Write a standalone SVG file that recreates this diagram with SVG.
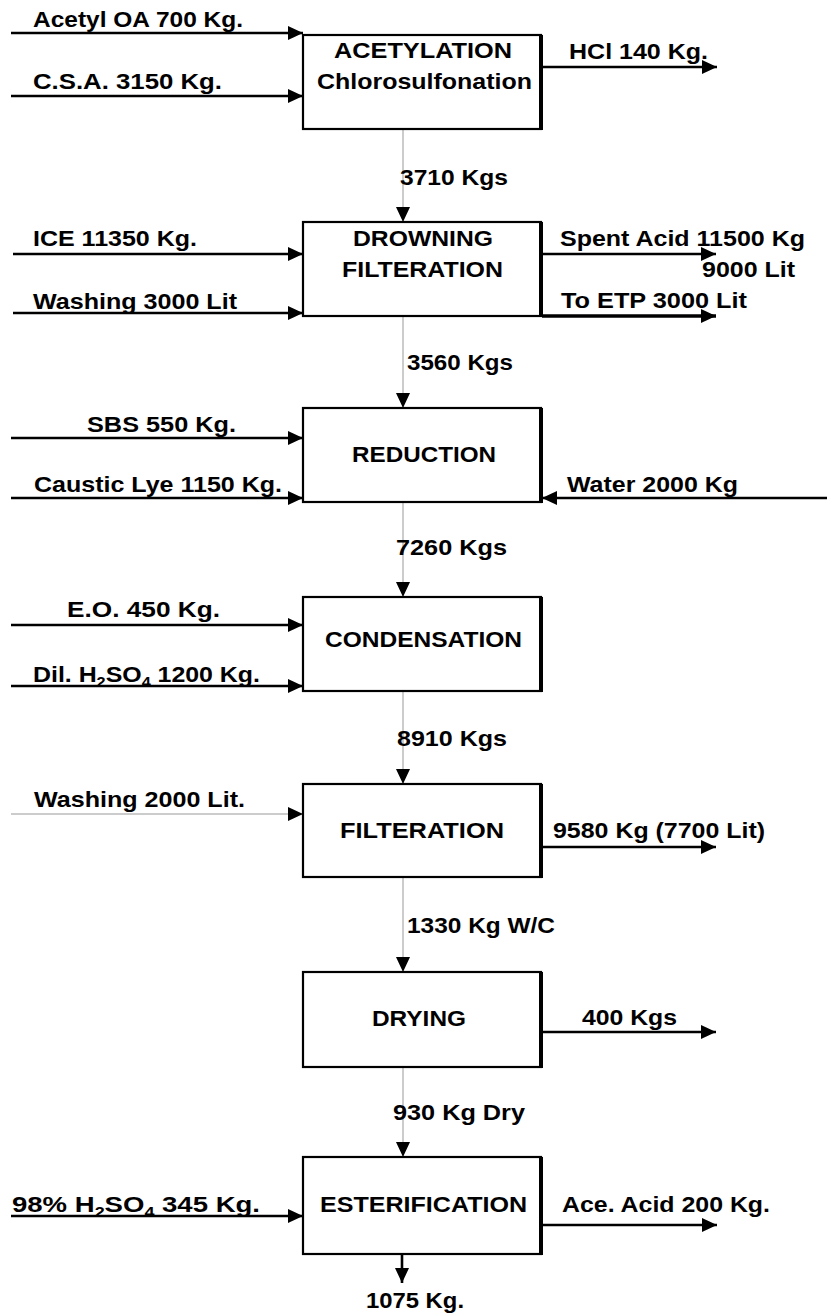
<svg xmlns="http://www.w3.org/2000/svg" width="827" height="1316" viewBox="0 0 827 1316">
<style>
text{font-family:"Liberation Sans",Arial,sans-serif;font-weight:bold;font-size:21.5px;fill:#000}
.box{fill:#fff;stroke:#000;stroke-width:2.2}
.edge{stroke:#000;stroke-width:4}
.ar{stroke:#000;stroke-width:2.6;fill:none;marker-end:url(#ah)}
.thick{stroke-width:3.6}
.thin{stroke:#999;stroke-width:1;fill:none;marker-end:url(#ah)}
.sub{font-size:14px}
</style>
<defs>
<marker id="ah" markerUnits="userSpaceOnUse" viewBox="0 0 15 14" refX="15" refY="7" markerWidth="15" markerHeight="14" orient="auto">
<path d="M0,0 L15,7 L0,14 z" fill="#000"/>
</marker>
</defs>
<rect width="827" height="1316" fill="#fff"/>
<g id="connectors">
<line class="ar" x1="11" y1="33" x2="303" y2="33"/>
<line class="ar" x1="11" y1="96" x2="303" y2="96"/>
<line class="ar" x1="542" y1="67" x2="717" y2="67"/>
<line class="thin" x1="403" y1="130" x2="403" y2="222"/>
<line class="ar" x1="13" y1="254" x2="303" y2="254"/>
<line class="ar" x1="13" y1="313" x2="303" y2="313"/>
<line class="ar" x1="542" y1="254" x2="716" y2="254"/>
<line class="ar thick" x1="542" y1="316" x2="716" y2="316"/>
<line class="thin" x1="403" y1="317" x2="403" y2="408"/>
<line class="ar" x1="11" y1="438" x2="303" y2="438"/>
<line class="ar" x1="11" y1="498" x2="303" y2="498"/>
<line class="ar" x1="827" y1="498" x2="542" y2="498"/>
<line class="thin" x1="403" y1="503" x2="403" y2="597"/>
<line class="ar" x1="11" y1="625" x2="303" y2="625"/>
<line class="ar" x1="11" y1="686" x2="303" y2="686"/>
<line class="thin" x1="403" y1="692" x2="403" y2="784"/>
<line class="thin" x1="11" y1="814" x2="303" y2="814"/>
<line class="ar" x1="542" y1="847" x2="716" y2="847"/>
<line class="thin" x1="403" y1="878" x2="403" y2="972"/>
<line class="ar" x1="542" y1="1032" x2="716" y2="1032"/>
<line class="thin" x1="403" y1="1068" x2="403" y2="1157"/>
<line class="ar" x1="11" y1="1216" x2="303" y2="1216"/>
<line class="ar" x1="542" y1="1225" x2="717" y2="1225"/>
<line class="ar" x1="402" y1="1254" x2="402" y2="1283"/>
</g>
<g id="labels">
<text x="33" y="27" textLength="210" lengthAdjust="spacingAndGlyphs">Acetyl OA 700 Kg.</text>
<text x="33" y="89" textLength="189" lengthAdjust="spacingAndGlyphs">C.S.A.  3150 Kg.</text>
<text x="569" y="59" textLength="139" lengthAdjust="spacingAndGlyphs">HCl 140 Kg.</text>
<text x="400" y="185" textLength="108" lengthAdjust="spacingAndGlyphs">3710 Kgs</text>
<text x="33" y="246" textLength="164" lengthAdjust="spacingAndGlyphs">ICE 11350 Kg.</text>
<text x="33" y="309" textLength="204" lengthAdjust="spacingAndGlyphs">Washing 3000 Lit</text>
<text x="560" y="246" textLength="245" lengthAdjust="spacingAndGlyphs">Spent Acid 11500 Kg</text>
<text x="702" y="277" textLength="93" lengthAdjust="spacingAndGlyphs">9000 Lit</text>
<text x="561" y="308" textLength="186" lengthAdjust="spacingAndGlyphs">To ETP 3000 Lit</text>
<text x="407" y="370" textLength="106" lengthAdjust="spacingAndGlyphs">3560 Kgs</text>
<text x="87" y="432" textLength="149" lengthAdjust="spacingAndGlyphs">SBS 550 Kg.</text>
<text x="34" y="492" textLength="248" lengthAdjust="spacingAndGlyphs">Caustic Lye 1150 Kg.</text>
<text x="567" y="492" textLength="171" lengthAdjust="spacingAndGlyphs">Water 2000 Kg</text>
<text x="396" y="555" textLength="111" lengthAdjust="spacingAndGlyphs">7260 Kgs</text>
<text x="67" y="617" textLength="153" lengthAdjust="spacingAndGlyphs">E.O.  450 Kg.</text>
<text x="33" y="682" textLength="227" lengthAdjust="spacingAndGlyphs">Dil. H<tspan class="sub" dy="5">2</tspan><tspan dy="-5">SO</tspan><tspan class="sub" dy="5">4</tspan><tspan dy="-5"> 1200 Kg.</tspan></text>
<text x="397" y="746" textLength="110" lengthAdjust="spacingAndGlyphs">8910 Kgs</text>
<text x="34" y="807" textLength="211" lengthAdjust="spacingAndGlyphs">Washing 2000 Lit.</text>
<text x="553" y="838" textLength="212" lengthAdjust="spacingAndGlyphs">9580 Kg (7700 Lit)</text>
<text x="407" y="933" textLength="148" lengthAdjust="spacingAndGlyphs">1330 Kg W/C</text>
<text x="582" y="1025" textLength="95" lengthAdjust="spacingAndGlyphs">400 Kgs</text>
<text x="393" y="1120" textLength="132" lengthAdjust="spacingAndGlyphs">930 Kg Dry</text>
<text x="12" y="1212" textLength="248" lengthAdjust="spacingAndGlyphs">98% H<tspan class="sub" dy="5">2</tspan><tspan dy="-5">SO</tspan><tspan class="sub" dy="5">4</tspan><tspan dy="-5"> 345 Kg.</tspan></text>
<text x="562" y="1212" textLength="208" lengthAdjust="spacingAndGlyphs">Ace. Acid 200 Kg.</text>
<text x="366" y="1308" textLength="98" lengthAdjust="spacingAndGlyphs">1075 Kg.</text>
</g>
<g id="acetylation">
<rect class="box" x="303" y="35" width="238" height="94"/>
<line class="edge" x1="541" y1="35" x2="541" y2="130"/>
<text x="334" y="58" textLength="178" lengthAdjust="spacingAndGlyphs">ACETYLATION</text>
<text x="317" y="89" textLength="215" lengthAdjust="spacingAndGlyphs">Chlorosulfonation</text>
</g>
<g id="drowning">
<rect class="box" x="303" y="222" width="238" height="94"/>
<line class="edge" x1="541" y1="222" x2="541" y2="317"/>
<text x="353" y="246" textLength="140" lengthAdjust="spacingAndGlyphs">DROWNING</text>
<text x="342" y="277" textLength="161" lengthAdjust="spacingAndGlyphs">FILTERATION</text>
</g>
<g id="reduction">
<rect class="box" x="303" y="408" width="238" height="94"/>
<line class="edge" x1="541" y1="408" x2="541" y2="503"/>
<text x="352" y="462" textLength="144" lengthAdjust="spacingAndGlyphs">REDUCTION</text>
</g>
<g id="condensation">
<rect class="box" x="303" y="597" width="238" height="94"/>
<line class="edge" x1="541" y1="597" x2="541" y2="692"/>
<text x="325" y="647" textLength="197" lengthAdjust="spacingAndGlyphs">CONDENSATION</text>
</g>
<g id="filteration">
<rect class="box" x="303" y="784" width="238" height="93"/>
<line class="edge" x1="541" y1="784" x2="541" y2="878"/>
<text x="340" y="838" textLength="164" lengthAdjust="spacingAndGlyphs">FILTERATION</text>
</g>
<g id="drying">
<rect class="box" x="303" y="972" width="238" height="95"/>
<line class="edge" x1="541" y1="972" x2="541" y2="1068"/>
<text x="372" y="1026" textLength="94" lengthAdjust="spacingAndGlyphs">DRYING</text>
</g>
<g id="esterification">
<rect class="box" x="303" y="1157" width="238" height="97"/>
<line class="edge" x1="541" y1="1157" x2="541" y2="1255"/>
<text x="320" y="1212" textLength="207" lengthAdjust="spacingAndGlyphs">ESTERIFICATION</text>
</g>
</svg>
